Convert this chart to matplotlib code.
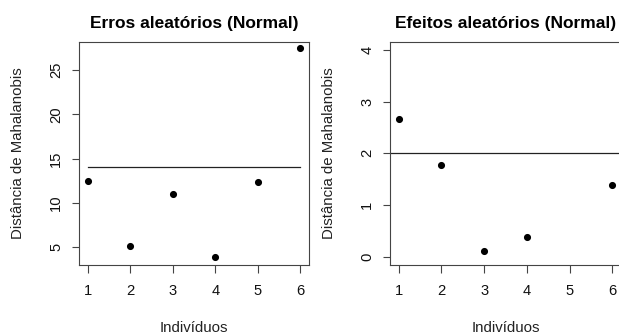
import matplotlib
matplotlib.use("Agg")
import matplotlib.pyplot as plt

plt.rcParams['font.family'] = ['Liberation Sans', 'DejaVu Sans']

# dados
individuos = [1, 2, 3, 4, 5, 6]
erros = [12.47, 5.18, 11.04, 3.95, 12.32, 27.44]
corte_erros = 14.07

individuos_ef = [1, 2, 3, 4, 6]
efeitos = [2.67, 1.78, 0.12, 0.38, 1.39]
corte_efeitos = 2.0

W, H = 619, 334
DPI = 100
fig = plt.figure(figsize=(W / DPI, H / DPI), dpi=DPI)


def make_ax(x0, x1, y0, y1):
    return fig.add_axes([x0 / W, 1 - y1 / H, (x1 - x0) / W, (y1 - y0) / H])


def style(ax, title, yticks):
    for s in ax.spines.values():
        s.set_color('#444444')
        s.set_linewidth(0.8)
    ax.set_xticks(individuos)
    ax.set_yticks(yticks)
    ax.tick_params(direction='out', length=5.4, width=0.8, color='#444444',
                   labelsize=10.6, labelcolor='#111111')
    ax.tick_params(axis='x', pad=8)
    ax.tick_params(axis='y', pad=6)
    for lab in ax.get_yticklabels():
        lab.set_rotation(90)
        lab.set_va('center')
    ax.set_title(title, fontsize=12.5, fontweight='bold', pad=10)
    ax.set_xlabel('Indivíduos', fontsize=10.8, color='#222222')
    ax.set_ylabel('Distância de Mahalanobis', fontsize=10.8, color='#222222')
    ax.xaxis.label.set_va('center')
    ax.yaxis.label.set_va('center')
    ax.xaxis.set_label_coords(0.5, -0.28)
    ax.yaxis.set_label_coords(-0.265, 0.5)


# painel esquerdo
ax1 = make_ax(79, 309, 41.7, 265)
ax1.plot(individuos, erros, 'o', color='black', markersize=4.1)
ax1.plot([individuos[0], individuos[-1]], [corte_erros, corte_erros],
         color='#222222', linewidth=0.9)
ax1.set_xlim(0.8, 6.2)
ax1.set_ylim(3.0, 28.2)
style(ax1, 'Erros aleatórios (Normal)', [5, 10, 15, 20, 25])

# painel direito (cortado na borda)
ax2 = make_ax(390, 621, 41.7, 265)
ax2.plot(individuos_ef, efeitos, 'o', color='black', markersize=4.1)
ax2.axhline(corte_efeitos, color='#222222', linewidth=0.9)
ax2.set_xlim(0.8, 6.2)
ax2.set_ylim(-0.16, 4.16)
style(ax2, 'Efeitos aleatórios (Normal)', [0, 1, 2, 3, 4])

fig.savefig('out.png', dpi=DPI)
